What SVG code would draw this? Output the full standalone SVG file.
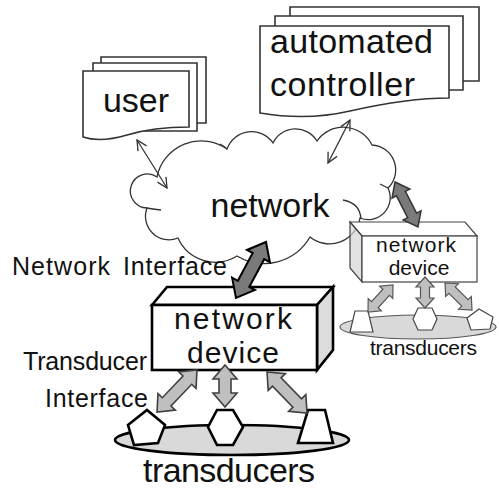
<svg xmlns="http://www.w3.org/2000/svg" width="499" height="488" viewBox="0 0 499 488">
<style>
.pg{fill:#fff;stroke:#333;stroke-width:1.6}
.cl{fill:#fff;stroke:#333;stroke-width:1.3}
.tail{fill:none;stroke:#333;stroke-width:1.3}
.thin{stroke:#333;stroke-width:1.3;fill:none;marker-start:url(#v);marker-end:url(#v)}
.big{font-family:"Liberation Sans",Arial,sans-serif;font-size:34px;fill:#111}
.mid{font-family:"Liberation Sans",Arial,sans-serif;font-size:25px;fill:#111}
.sm{font-family:"Liberation Sans",Arial,sans-serif;font-size:21px;fill:#111}
.dk{fill:#7a7a7a;stroke:#000;stroke-width:2;stroke-linejoin:miter}
.dk2{fill:#7a7a7a;stroke:#333;stroke-width:1.5}
.lt{fill:#bfbfbf;stroke:#404040;stroke-width:1.6}
.lt2{fill:#bfbfbf;stroke:#555;stroke-width:1.2}
.shp{fill:#fff;stroke:#000;stroke-width:2.6;stroke-linejoin:miter}
.shp2{fill:#fff;stroke:#444;stroke-width:1.2}
</style>
<defs>
<marker id="v" viewBox="0 0 12 12" refX="11" refY="6" markerWidth="12" markerHeight="12" markerUnits="userSpaceOnUse" orient="auto-start-reverse">
<path d="M1,1 L11,6 L1,11" fill="none" stroke="#333" stroke-width="1.3"/>
</marker>
</defs>

<g id="user">
<path class="pg" d="M101,57 H206 V123 H101 Z"/>
<path class="pg" d="M93,63 H197 V131 H93 Z"/>
<path class="pg" d="M83,71 H189 V127 C170,127 150,128 127,135 C110,140 95,141 83,137 Z"/>
<text class="big" x="136" y="112" text-anchor="middle">user</text>
</g>

<g id="controller">
<path class="pg" d="M290,7 H479 V81 H290 Z"/>
<path class="pg" d="M275,16 H463 V90 H275 Z"/>
<path class="pg" d="M260,26 H449 V98 C420,98 390,102 350,111 C320,118 290,118 260,113 Z"/>
<text class="big" x="270" y="53" textLength="163">automated</text>
<text class="big" x="270" y="96" textLength="145">controller</text>
</g>

<g id="network">
<path class="cl" d="M147,208 A17,17 0 1 1 157,177 A45,45 0 0 1 227,149 A26,26 0 0 1 273,143 A25,25 0 0 1 317,141 A32,32 0 0 1 372,145 A25,25 0 0 1 388,188 A22,22 0 0 1 360,218 A31,31 0 0 1 310,237 A53,53 0 0 1 237,256 A41,41 0 0 1 178,238 A23.5,23.5 0 0 1 147,208 Z"/>
<path class="tail" d="M147,208 Q152,209 161,210"/>
<path class="tail" d="M361,219 Q360,203 343,200"/>
<path class="tail" d="M388,188 Q384,186 380,184"/>
<path class="tail" d="M227,149 Q224,146 220,144"/>
<text class="big" x="270" y="217" text-anchor="middle">network</text>
</g>

<g id="connectors">
<line class="thin" x1="137" y1="140" x2="167" y2="188"/>
<line class="thin" x1="350" y1="120" x2="328" y2="163"/>
</g>

<g id="device-main">
<polygon points="152,305 167,287 333,287 317,305" fill="#fff" stroke="#000" stroke-width="2.6"/>
<polygon points="317,305 333,287 333,350 317,370" fill="#dcdcdc" stroke="#000" stroke-width="2.6"/>
<rect x="152" y="305" width="165" height="65" fill="#fff" stroke="#000" stroke-width="2.6"/>
<text class="big" x="233" y="329" text-anchor="middle" textLength="118" style="font-size:30px">network</text>
<text class="big" x="233" y="363" text-anchor="middle" textLength="92" style="font-size:30px">device</text>
</g>

<g id="device-small">
<polygon points="350,222 465,222 477,236 362,236" fill="#fff" stroke="#444" stroke-width="1.2"/>
<polygon points="350,222 362,236 362,282 350,268" fill="#d4d4d4" fill-opacity="0.7" stroke="#444" stroke-width="1.2"/>
<rect x="362" y="236" width="115" height="46" fill="#fff" stroke="#444" stroke-width="1.2"/>
<text class="sm" x="416" y="252" text-anchor="middle" textLength="80">network</text>
<text class="sm" x="419" y="275" text-anchor="middle">device</text>
</g>

<g id="transducers-main">
<ellipse cx="232" cy="440" rx="117" ry="15" fill="#d9d9d9" stroke="#000" stroke-width="2.6"/>
<polygon class="shp" points="147,410 165,425 158,443 134,445 128,425"/>
<polygon class="shp" points="217,410 233,410 243,427 233,445 217,445 208,427"/>
<polygon class="shp" points="308,410 325,410 333,443 298,443"/>
<text class="big" x="143" y="482" textLength="172">transducers</text>
</g>

<g id="transducers-small">
<ellipse cx="418" cy="327" rx="78" ry="12" fill="#d9d9d9" stroke="#555" stroke-width="1.2"/>
<polygon class="shp2" points="355,311 368,311 373,332 350,332"/>
<polygon class="shp2" points="418,308 432,308 437,319 432,330 418,330 413,319"/>
<polygon class="shp2" points="479,309 493,317 490,329 471,330 467,318"/>
<text class="sm" x="370" y="355" textLength="107">transducers</text>
</g>

<g id="interfaces">
<polygon class="dk" transform="translate(266,242) rotate(118.2)" points="0,0 16,-13 16,-6.5 47.5,-6.5 47.5,-13 63.5,0 47.5,13 47.5,6.5 16,6.5 16,13"/>
<polygon class="dk2" transform="translate(395,182) rotate(62.9)" points="0,0 13,-10 13,-5 37.5,-5 37.5,-10 50.5,0 37.5,10 37.5,5 13,5 13,10"/>
<polygon class="lt" transform="translate(197,370) rotate(133.6)" points="0,0 14,-12 14,-6 44,-6 44,-12 58,0 44,12 44,6 14,6 14,12"/>
<polygon class="lt" transform="translate(225,365) rotate(90)" points="0,0 14,-12 14,-6 28,-6 28,-12 42,0 28,12 28,6 14,6 14,12"/>
<polygon class="lt" transform="translate(267,372) rotate(45.7)" points="0,0 14,-12 14,-6 43.3,-6 43.3,-12 57.3,0 43.3,12 43.3,6 14,6 14,12"/>
<polygon class="lt2" transform="translate(393,285) rotate(132.8)" points="0,0 10,-9 10,-4.5 26.8,-4.5 26.8,-9 36.8,0 26.8,9 26.8,4.5 10,4.5 10,9"/>
<polygon class="lt2" transform="translate(425,277) rotate(90)" points="0,0 10,-9 10,-4.5 21,-4.5 21,-9 31,0 21,9 21,4.5 10,4.5 10,9"/>
<polygon class="lt2" transform="translate(445,283) rotate(45)" points="0,0 10,-9 10,-4.5 28.2,-4.5 28.2,-9 38.2,0 28.2,9 28.2,4.5 10,4.5 10,9"/>
</g>

<g id="labels">
<text class="mid" y="275"><tspan x="12" textLength="98">Network</tspan><tspan x="123" textLength="104">Interface</tspan></text>
<text class="mid" x="23" y="370" textLength="124">Transducer</text>
<text class="mid" x="45" y="407" textLength="103">Interface</text>
</g>
</svg>
